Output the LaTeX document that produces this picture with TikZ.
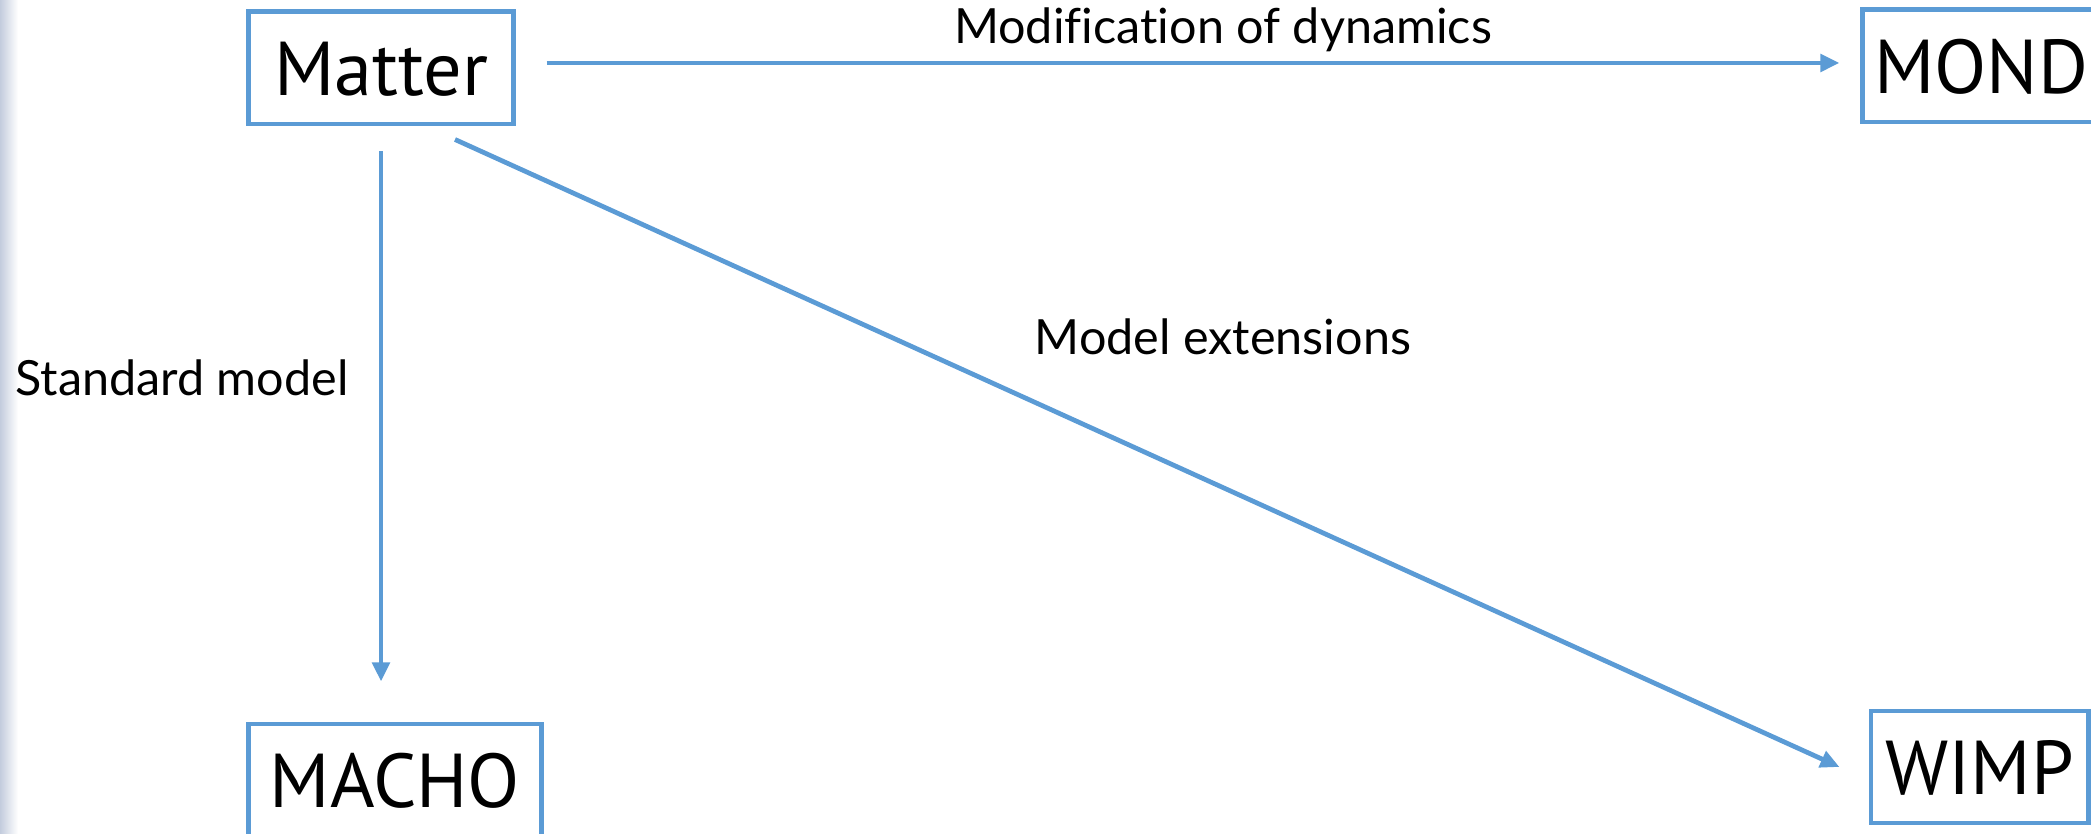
\documentclass[tikz,border=0pt]{standalone}
\usepackage{fontspec}
\setmainfont[Ligatures=NoCommon]{Lato}
\newfontfamily\boxfont{PT Sans}
\usetikzlibrary{arrows.meta,calc}
\definecolor{boxblue}{HTML}{5B9BD5}
\definecolor{stripgray}{HTML}{C3CCDD}
\tikzset{
  bigbox/.style={draw=boxblue, line width=1.4pt, inner sep=0pt, minimum height=1.12cm,
     text height=0.55cm, text depth=0pt, font=\boxfont\fontsize{21.7}{24}\selectfont, text=black},
  lbl/.style={font=\fontsize{13.8}{16}\selectfont, text=black, inner sep=0pt, anchor=base},
  arr/.style={draw=boxblue, line width=1.35pt, -{Triangle[length=0.19cm,width=0.17cm]}}
}
\begin{document}
\begin{tikzpicture}[x=0.01cm,y=-0.01cm]
\useasboundingbox (0,0) rectangle (2091,834);
\shade[left color=stripgray, right color=white] (0,0) rectangle (18,834);
\node[bigbox, minimum width=2.64cm] (Matter) at (381,68) {Matter};
\node[bigbox, minimum width=2.36cm] (MOND) at (1981,66) {MOND};
\node[bigbox, minimum width=2.92cm] (MACHO) at (395,780) {MACHO};
\node[bigbox, minimum width=2.17cm] (WIMP) at (1979.5,767) {WIMP};
\draw[arr] ($(Matter.east)+(31,-5)$) -- ($(MOND.west)+(-21,-3)$);
\draw[arr] ($(Matter.south)+(0,25)$) -- ($(MACHO.north)+(-14,-40)$);
\draw[arr] ($(Matter.south)+(74,13)$) -- ($(WIMP.west)+(-29,0)$);
\node[lbl] (l1) at (1223,44) {Modification of dynamics};
\node[lbl] (l2) at (1223,355) {Model extensions};
\node[lbl] (l3) at (182,396) {Standard model};
\end{tikzpicture}
\end{document}
